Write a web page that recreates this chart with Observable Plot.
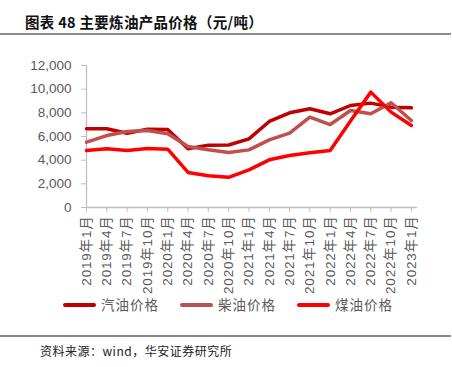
<!DOCTYPE html>
<html><head><meta charset="utf-8">
<script src="https://cdn.jsdelivr.net/npm/d3@7"></script>
<script src="https://cdn.jsdelivr.net/npm/@observablehq/plot@0.6"></script>
<style>
body{margin:0;background:#fff;width:452px;height:367px;position:relative;overflow:hidden;font-family:"Liberation Sans",Arial,"Noto Sans CJK SC",sans-serif;}
#title{position:absolute;left:25px;top:11px;font-size:14.5px;font-weight:bold;color:#111;font-family:"Noto Sans CJK SC",sans-serif;letter-spacing:0.3px}
.hl{position:absolute;left:0;width:451px;height:2px;background:#8a8a8a}
#chart{position:absolute;left:0;top:40px}
#legend{position:absolute;top:294px;left:0;width:452px;height:20px;font-family:"Noto Sans CJK SC",sans-serif;font-size:13.5px;color:#595959;letter-spacing:1px}
.sw{position:absolute;top:9px;width:33px;height:4px;border-radius:2px}
.lt{position:absolute;top:0px}
#src{position:absolute;left:40px;top:342px;font-size:12px;color:#222;font-family:"Noto Sans CJK SC",sans-serif;letter-spacing:0.5px}
</style></head>
<body>
<div id="title">图表 48 主要炼油产品价格（元/吨）</div>
<div class="hl" style="top:33px"></div>
<div id="chart"></div>
<div id="legend"></div>
<div class="hl" style="top:335px"></div>
<div id="src">资料来源：wind，华安证券研究所</div>
<script>
const months = ["2019年1月","2019年4月","2019年7月","2019年10月","2020年1月","2020年4月","2020年7月","2020年10月","2021年1月","2021年4月","2021年7月","2021年10月","2022年1月","2022年4月","2022年7月","2022年10月","2023年1月"];
const gasoline = [6650,6650,6280,6620,6600,4960,5270,5280,5800,7270,8000,8340,7920,8620,8820,8480,8420];
const diesel   = [5520,6080,6420,6500,6230,5150,4880,4650,4870,5720,6280,7630,7010,8200,7920,8850,7350];
const kerosene = [4820,4960,4820,4990,4930,2960,2680,2550,3180,4030,4390,4620,4820,7300,9750,8060,6930];
const seriesNames = ["汽油价格","柴油价格","煤油价格"];
const seriesColors = ["#C00000","#C0504D","#FF0000"];
const yTicks = [0,2000,4000,6000,8000,10000,12000];

const seriesData = [gasoline, diesel, kerosene];
const rows = [];
seriesData.forEach((vals, s) => vals.forEach((v, i) => rows.push({i, v, s: seriesNames[s]})));

const plot = Plot.plot({
  width: 452, height: 262,
  marginTop: 25, marginBottom: 95, marginLeft: 86, marginRight: 35,
  style: {fontFamily: '"Liberation Sans",Arial,sans-serif', background: "transparent", overflow: "visible"},
  x: {type: "linear", domain: [0, 16.3]},
  y: {domain: [0, 12000]},
  color: {domain: seriesNames, range: seriesColors},
  marks: [
    Plot.ruleX([0], {stroke: "#BFBFBF", strokeWidth: 1.3}),
    Plot.ruleY([0], {stroke: "#BFBFBF", strokeWidth: 1.3}),
    Plot.axisY({ticks: yTicks, tickFormat: d3.format(","), tickSize: 5, tickPadding: 10, stroke: "#BFBFBF", fontSize: 13.5, color: "#595959", label: null}),
    Plot.axisX({ticks: d3.range(months.length), tickFormat: i => months[i], tickSize: 5, tickPadding: 3, tickRotate: -90, stroke: "#BFBFBF", color: "#595959", label: null}),
    Plot.line(rows, {x: "i", y: "v", z: "s", stroke: "s", strokeWidth: 3.5, strokeLinejoin: "round"})
  ]
});
plot.querySelectorAll('g[aria-label="y-axis tick"] path, g[aria-label="x-axis tick"] path').forEach(p => p.setAttribute("stroke", "#BFBFBF"));
const xl = plot.querySelector('g[aria-label="x-axis tick label"]');
if (xl) {
  xl.setAttribute("font-family", '"Liberation Sans",Arial,"Noto Sans CJK SC",sans-serif');
  xl.querySelectorAll("text").forEach(t => {
    t.setAttribute("font-size", "13.5");
    t.style.fontSize = "13.5px";
    t.style.letterSpacing = "0.8px";
  });
}
document.getElementById("chart").appendChild(plot);

const lg = document.getElementById("legend");
const swX = [63, 180, 297];
seriesNames.forEach((n, k) => {
  const sw = document.createElement("div");
  sw.className = "sw"; sw.style.left = swX[k] + "px"; sw.style.background = seriesColors[k];
  lg.appendChild(sw);
  const t = document.createElement("div");
  t.className = "lt"; t.style.left = (swX[k] + 38) + "px"; t.textContent = n;
  lg.appendChild(t);
});
</script>
</body></html>
